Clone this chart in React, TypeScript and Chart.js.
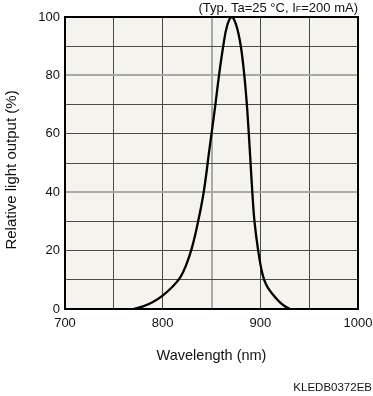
import React, { useEffect, useRef } from 'react';
import { Chart, registerables } from 'chart.js';

Chart.register(...registerables);

// ---- data ----
const wavelengths = [770, 780, 790, 800, 810, 818, 824, 830, 836, 842, 848, 853.6, 857.7, 862, 866, 870.7, 875.5, 880, 883.6, 886.2, 888.2, 890, 891.8, 894, 897.8, 902, 906, 912, 918, 924, 930.5];
const relativeOutput = [0, 0.9, 2.4, 4.6, 7.6, 10.8, 15, 21, 29.5, 40, 55, 69, 80, 90, 97, 100, 97, 90, 80, 70, 60, 50, 40, 30, 20, 12.2, 8.3, 5.3, 3, 1.2, 0];
const xTickLabels = [700, 800, 900, 1000];
const yTickLabels = [0, 20, 40, 60, 80, 100];
const grayXLines = [850];
const grayYLines = [40, 80];
const xTitle = 'Wavelength (nm)';
const yTitle = 'Relative light output (%)';
const notePre = '(Typ. Ta=25 °C, I';
const noteSub = 'F';
const notePost = '=200 mA)';
const codeText = 'KLEDB0372EB';

const FONT = '"Liberation Sans", Arial, sans-serif';

const textPlugin = {
  id: 'textPlugin',
  beforeDraw(chart: any) {
    const { ctx, chartArea } = chart;
    ctx.save();
    ctx.fillStyle = '#f4f3ee';
    ctx.fillRect(chartArea.left, chartArea.top, chartArea.right - chartArea.left, chartArea.bottom - chartArea.top);
    ctx.restore();
  },
  afterDraw(chart: any) {
    const { ctx, chartArea } = chart;
    ctx.save();
    ctx.strokeStyle = '#000';
    ctx.lineWidth = 2;
    ctx.strokeRect(chartArea.left, chartArea.top, chartArea.right - chartArea.left, chartArea.bottom - chartArea.top);

    ctx.fillStyle = '#111';
    ctx.textBaseline = 'middle';
    // note at top right
    const big = `13px ${FONT}`;
    const small = `9px ${FONT}`;
    ctx.font = big;
    const wPre = ctx.measureText(notePre).width;
    const wPost = ctx.measureText(notePost).width;
    ctx.font = small;
    const wSub = ctx.measureText(noteSub).width;
    let x = chartArea.right - (wPre + wSub + wPost);
    ctx.textAlign = 'left';
    ctx.font = big;
    ctx.fillText(notePre, x, 8);
    x += wPre;
    ctx.font = small;
    ctx.fillText(noteSub, x, 10);
    x += wSub;
    ctx.font = big;
    ctx.fillText(notePost, x, 8);

    // x title
    ctx.font = `14.5px ${FONT}`;
    ctx.textAlign = 'center';
    ctx.fillText(xTitle, (chartArea.left + chartArea.right) / 2, 356);

    // y title
    ctx.font = `15px ${FONT}`;
    ctx.save();
    ctx.translate(12, 170);
    ctx.rotate(-Math.PI / 2);
    ctx.fillText(yTitle, 0, 0);
    ctx.restore();

    // code
    ctx.font = `11.5px ${FONT}`;
    ctx.textAlign = 'right';
    ctx.fillText(codeText, 372, 388);
    ctx.restore();
  },
};

export default function App() {
  const ref = useRef<HTMLCanvasElement>(null);

  useEffect(() => {
    if (!ref.current) return;
    const chart = new Chart(ref.current, {
      type: 'line',
      data: {
        datasets: [
          {
            data: wavelengths.map((w, i) => ({ x: w, y: relativeOutput[i] })),
            borderColor: '#000',
            borderWidth: 2.3,
            pointRadius: 0,
            tension: 0.4,
            fill: false,
          },
        ],
      },
      options: {
        animation: false,
        responsive: false,
        devicePixelRatio: 1,
        layout: { padding: { top: 17, right: 15, left: 0, bottom: 0 } },
        plugins: { legend: { display: false }, tooltip: { enabled: false }, title: { display: false } },
        scales: {
          x: {
            type: 'linear',
            min: 700,
            max: 1000,
            afterFit: (s: any) => { s.height = 87; s.paddingLeft = 0; s.paddingRight = 0; },
            border: { display: false },
            grid: {
              drawTicks: false,
              color: (c: any) => (grayXLines.includes(c.tick?.value) ? '#a9a9a9' : '#4a4a4a'),
              lineWidth: (c: any) => (grayXLines.includes(c.tick?.value) ? 2 : 1),
            },
            ticks: {
              stepSize: 50,
              padding: 7,
              color: '#111',
              font: { family: FONT, size: 13 },
              maxRotation: 0,
              autoSkip: false,
              callback: (v: any) => (xTickLabels.includes(Number(v)) ? String(v) : ''),
            },
          },
          y: {
            min: 0,
            max: 100,
            afterFit: (s: any) => { s.width = 65; s.paddingTop = 0; s.paddingBottom = 0; },
            border: { display: false },
            grid: {
              drawTicks: false,
              color: (c: any) => (grayYLines.includes(c.tick?.value) ? '#a9a9a9' : '#4a4a4a'),
              lineWidth: (c: any) => (grayYLines.includes(c.tick?.value) ? 2 : 1),
            },
            ticks: {
              stepSize: 10,
              padding: 5,
              color: '#111',
              font: { family: FONT, size: 13 },
              autoSkip: false,
              callback: (v: any) => (yTickLabels.includes(Number(v)) ? String(v) : ''),
            },
          },
        },
      },
      plugins: [textPlugin],
    } as any);
    return () => chart.destroy();
  }, []);

  return (
    <div style={{ position: 'absolute', left: 0, top: 0, width: 373, height: 396, background: '#fff' }}>
      <canvas ref={ref} width={373} height={396} style={{ display: 'block', width: 373, height: 396 }} />
    </div>
  );
}
